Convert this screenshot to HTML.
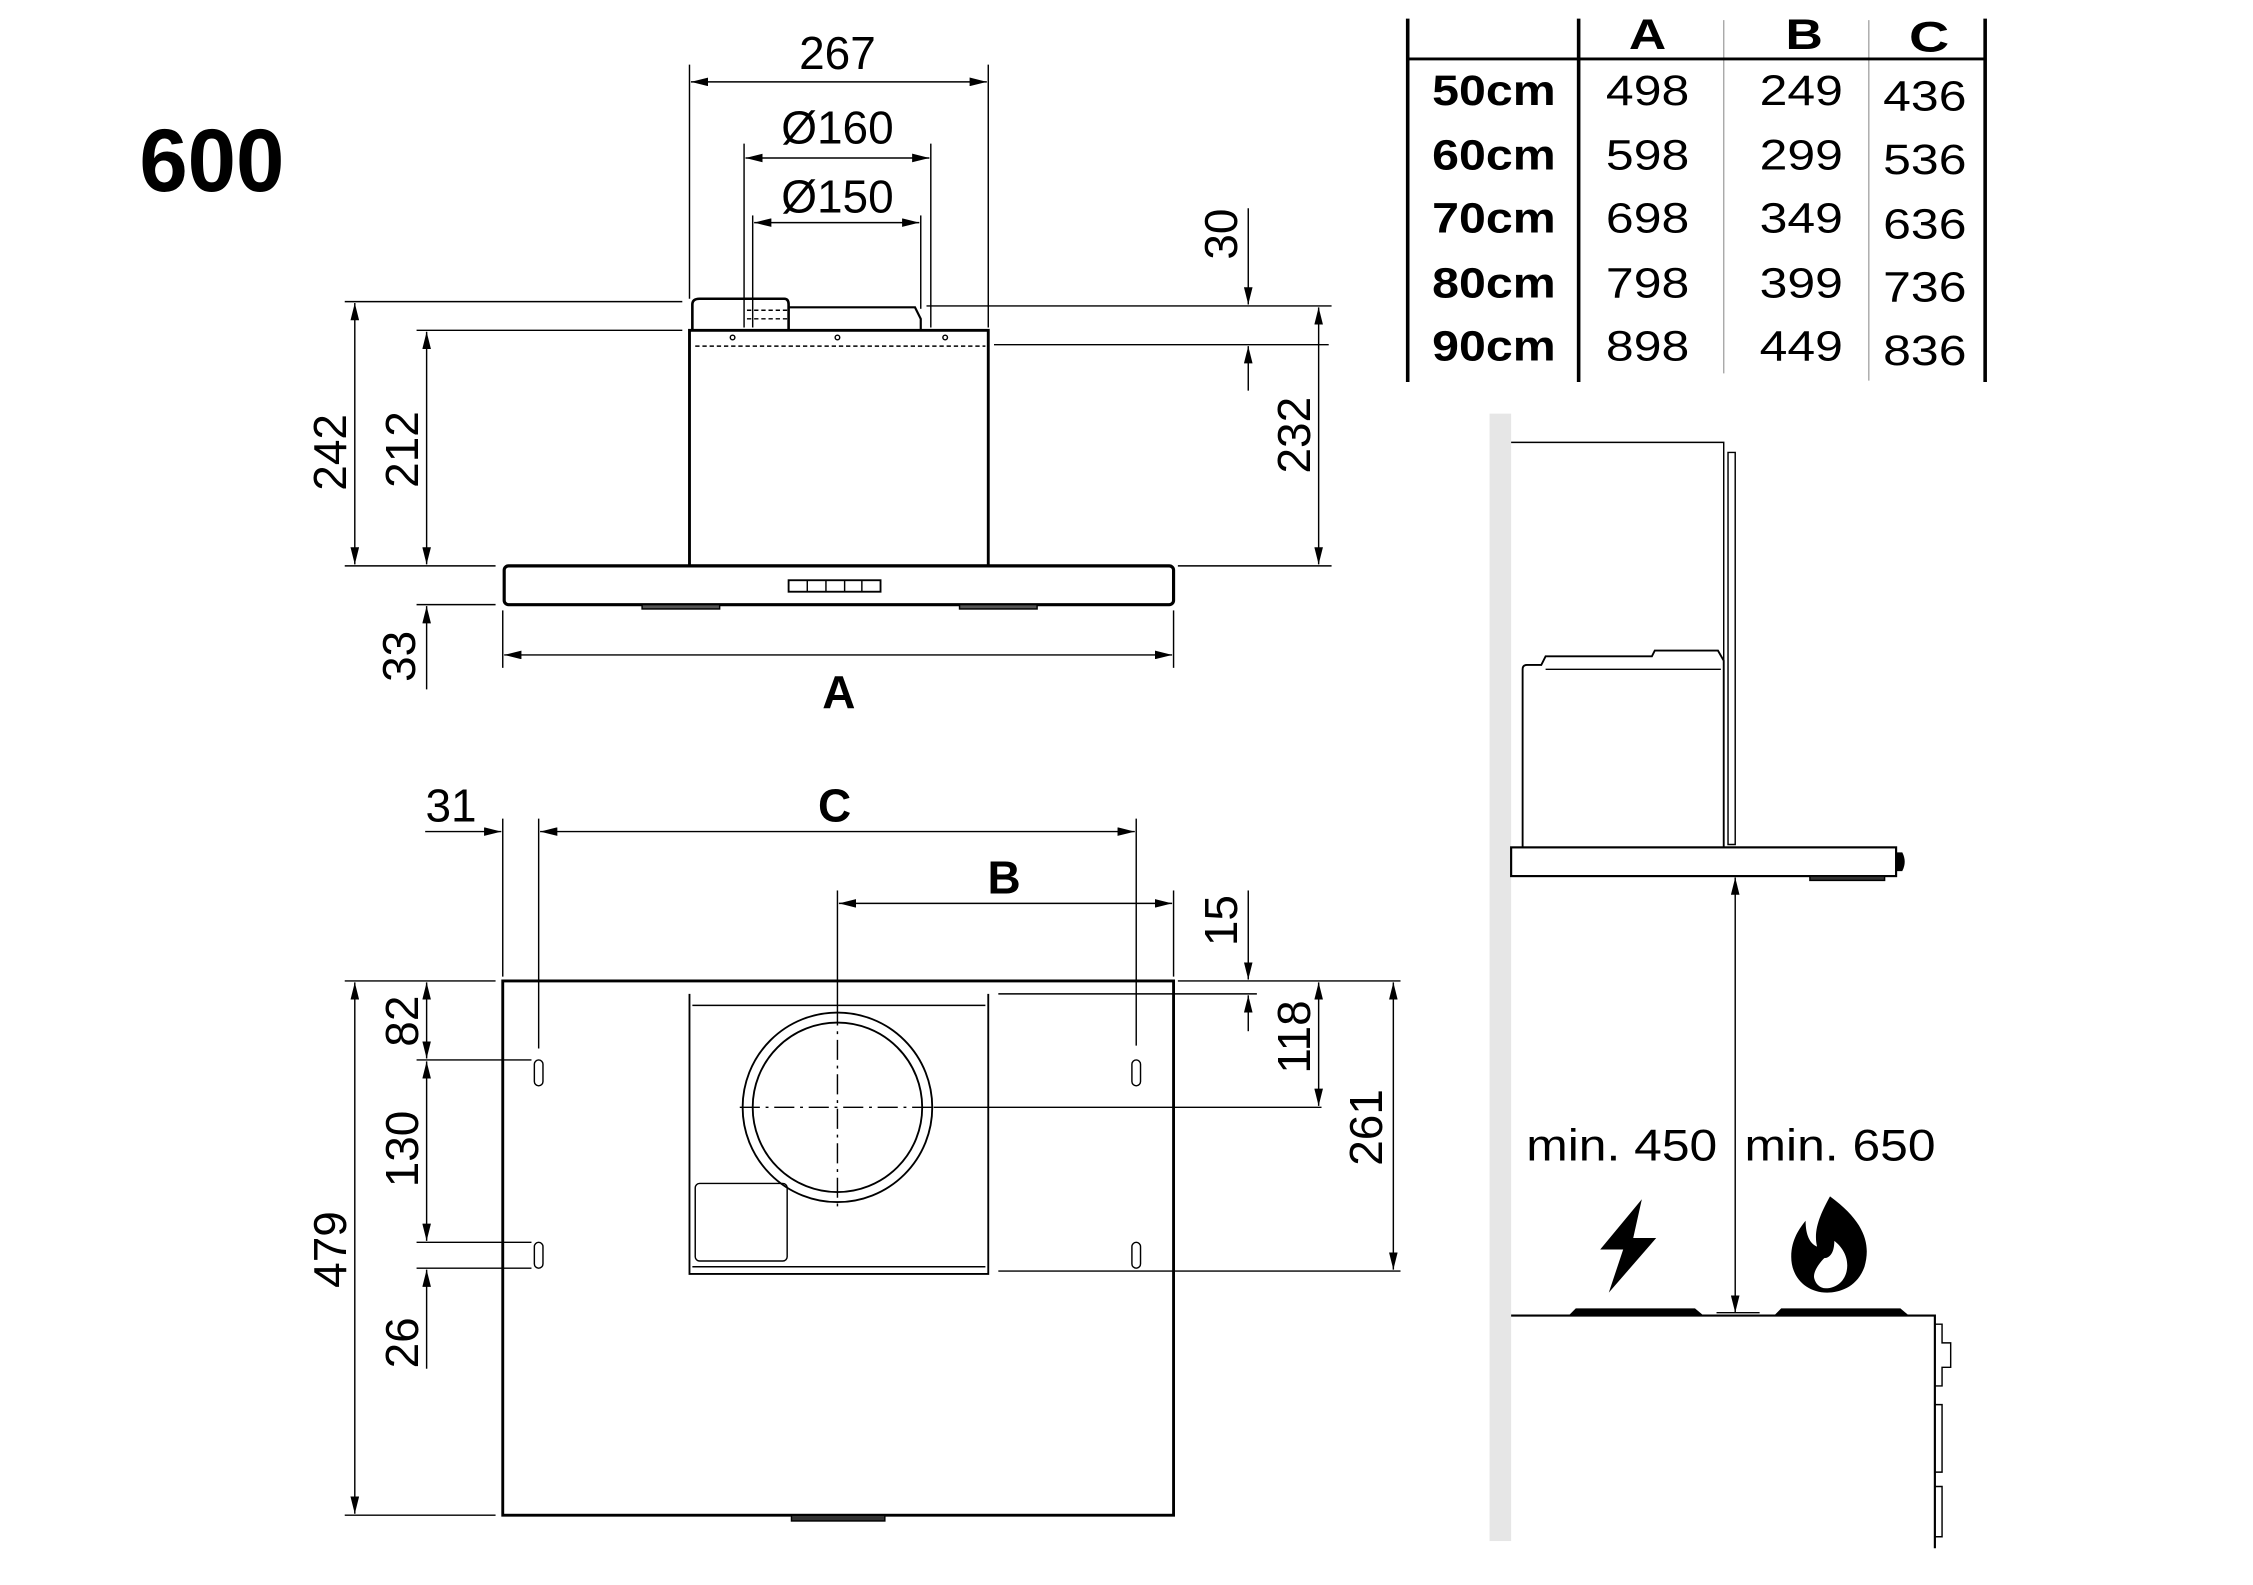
<!DOCTYPE html>
<html><head><meta charset="utf-8"><style>
html,body{margin:0;padding:0;background:#fff;}
svg{display:block;}
text{font-family:"Liberation Sans",Arial,sans-serif;fill:#000;}
</style></head><body>
<svg width="2253" height="1585" viewBox="0 0 1552 1092" preserveAspectRatio="none" xmlns="http://www.w3.org/2000/svg">
<defs>
<marker id="a" viewBox="0 0 12 6" refX="12" refY="3" markerWidth="12" markerHeight="6" markerUnits="userSpaceOnUse" orient="auto-start-reverse">
<path d="M0,0 L12,3 L0,6 z" fill="#000"/></marker>
</defs>
<rect width="1552" height="1092" fill="#fff"/>
<g transform="scale(0.9895)">
<text x="97" y="133" font-size="62" font-weight="bold" textLength="101" lengthAdjust="spacingAndGlyphs">600</text>

<!-- ===== TOP VIEW ===== -->
<g stroke="#000" stroke-width="1" fill="none">
<line x1="480" y1="45" x2="480" y2="208"/>
<line x1="688" y1="45" x2="688" y2="228"/>
<line x1="518" y1="100" x2="518" y2="228"/>
<line x1="648" y1="100" x2="648" y2="228"/>
<line x1="524" y1="150" x2="524" y2="228"/>
<line x1="641" y1="150" x2="641" y2="215"/>
<line x1="481" y1="57" x2="687" y2="57" marker-start="url(#a)" marker-end="url(#a)"/>
<line x1="519" y1="110" x2="647" y2="110" marker-start="url(#a)" marker-end="url(#a)"/>
<line x1="525" y1="155" x2="640" y2="155" marker-start="url(#a)" marker-end="url(#a)"/>
<rect x="480" y="230" width="208" height="164" stroke-width="2"/>
<path d="M482,230 V212 Q482,208 487,208 H546 Q549,208 549,212 V230" stroke-width="1.8"/>
<path d="M549,214 H637 L641,222 V230" stroke-width="1.5"/>
<path d="M520,216 H548 M520,222 H548" stroke-dasharray="3,2"/>
<line x1="484" y1="241" x2="686" y2="241" stroke-dasharray="3,2"/>
<circle cx="510" cy="235" r="1.6"/><circle cx="583" cy="235" r="1.6"/><circle cx="658" cy="235" r="1.6"/>
<rect x="351" y="394" width="466" height="27" rx="3" stroke-width="2.2"/>
<rect x="549" y="404" width="64" height="8" stroke-width="1.3"/>
<path d="M562,404V412M575,404V412M588,404V412M600,404V412"/>
<rect x="447" y="421" width="54" height="3" fill="#555"/>
<rect x="668" y="421" width="54" height="3" fill="#555"/>
<line x1="240" y1="210" x2="475" y2="210"/>
<line x1="290" y1="230" x2="475" y2="230"/>
<line x1="240" y1="394" x2="345" y2="394"/>
<line x1="290" y1="421" x2="345" y2="421"/>
<line x1="247" y1="211" x2="247" y2="393" marker-start="url(#a)" marker-end="url(#a)"/>
<line x1="297" y1="231" x2="297" y2="393" marker-start="url(#a)" marker-end="url(#a)"/>
<line x1="297" y1="480" x2="297" y2="422" marker-end="url(#a)"/>
<line x1="645" y1="213" x2="927" y2="213"/>
<line x1="692" y1="240" x2="925" y2="240"/>
<line x1="820" y1="394" x2="927" y2="394"/>
<line x1="918" y1="214" x2="918" y2="393" marker-start="url(#a)" marker-end="url(#a)"/>
<line x1="869" y1="145" x2="869" y2="212" marker-end="url(#a)"/>
<line x1="869" y1="272" x2="869" y2="241" marker-end="url(#a)"/>
<line x1="350" y1="425" x2="350" y2="465"/>
<line x1="817" y1="425" x2="817" y2="465"/>
<line x1="351" y1="456" x2="816" y2="456" marker-start="url(#a)" marker-end="url(#a)"/>
</g>
<g font-size="32">
<text x="583" y="48" text-anchor="middle">267</text>
<text x="583" y="100" text-anchor="middle">Ø160</text>
<text x="583" y="148" text-anchor="middle">Ø150</text>
<text transform="translate(241,315) rotate(-90)" text-anchor="middle">242</text>
<text transform="translate(291,313) rotate(-90)" text-anchor="middle">212</text>
<text transform="translate(289,457) rotate(-90)" text-anchor="middle">33</text>
<text transform="translate(912,303) rotate(-90)" text-anchor="middle">232</text>
<text transform="translate(861,163) rotate(-90)" text-anchor="middle">30</text>
</g>
<text x="584" y="493" font-size="32" font-weight="bold" text-anchor="middle">A</text>

<!-- ===== TABLE ===== -->
<g stroke="#000" fill="none">
<line x1="980" y1="13" x2="980" y2="266" stroke-width="2.5"/>
<line x1="1099" y1="13" x2="1099" y2="266" stroke-width="2.5"/>
<line x1="1382" y1="13" x2="1382" y2="266" stroke-width="2.5"/>
<line x1="1200" y1="14" x2="1200" y2="260" stroke="#aaa" stroke-width="1"/>
<line x1="1301" y1="14" x2="1301" y2="265" stroke="#aaa" stroke-width="1"/>
<line x1="980" y1="41" x2="1382" y2="41" stroke-width="2"/>
</g>
<g font-size="30" font-weight="bold" text-anchor="middle">
<text x="1147" y="34" textLength="26" lengthAdjust="spacingAndGlyphs">A</text>
<text x="1256" y="34" textLength="26" lengthAdjust="spacingAndGlyphs">B</text>
<text x="1343" y="36" textLength="28" lengthAdjust="spacingAndGlyphs">C</text>
</g>
<g font-size="30" font-weight="bold">
<text x="997" y="73" textLength="86" lengthAdjust="spacingAndGlyphs">50cm</text>
<text x="997" y="118" textLength="86" lengthAdjust="spacingAndGlyphs">60cm</text>
<text x="997" y="162" textLength="86" lengthAdjust="spacingAndGlyphs">70cm</text>
<text x="997" y="207" textLength="86" lengthAdjust="spacingAndGlyphs">80cm</text>
<text x="997" y="251" textLength="86" lengthAdjust="spacingAndGlyphs">90cm</text>
</g>
<g font-size="30">
<text x="1118" y="73" textLength="58" lengthAdjust="spacingAndGlyphs">498</text>
<text x="1118" y="118" textLength="58" lengthAdjust="spacingAndGlyphs">598</text>
<text x="1118" y="162" textLength="58" lengthAdjust="spacingAndGlyphs">698</text>
<text x="1118" y="207" textLength="58" lengthAdjust="spacingAndGlyphs">798</text>
<text x="1118" y="251" textLength="58" lengthAdjust="spacingAndGlyphs">898</text>
<text x="1225" y="73" textLength="58" lengthAdjust="spacingAndGlyphs">249</text>
<text x="1225" y="118" textLength="58" lengthAdjust="spacingAndGlyphs">299</text>
<text x="1225" y="162" textLength="58" lengthAdjust="spacingAndGlyphs">349</text>
<text x="1225" y="207" textLength="58" lengthAdjust="spacingAndGlyphs">399</text>
<text x="1225" y="251" textLength="58" lengthAdjust="spacingAndGlyphs">449</text>
<text x="1311" y="77" textLength="58" lengthAdjust="spacingAndGlyphs">436</text>
<text x="1311" y="121" textLength="58" lengthAdjust="spacingAndGlyphs">536</text>
<text x="1311" y="166" textLength="58" lengthAdjust="spacingAndGlyphs">636</text>
<text x="1311" y="210" textLength="58" lengthAdjust="spacingAndGlyphs">736</text>
<text x="1311" y="254" textLength="58" lengthAdjust="spacingAndGlyphs">836</text>
</g>

<!-- ===== PLAN VIEW ===== -->
<g stroke="#000" stroke-width="1" fill="none">
<rect x="350" y="683" width="467" height="372" stroke-width="2"/>
<path d="M480,692 V887 H688 V692" stroke-width="1.3"/>
<line x1="482" y1="700" x2="686" y2="700"/>
<line x1="482" y1="882" x2="686" y2="882"/>
<rect x="484" y="824" width="64" height="54" rx="3"/>
<circle cx="583" cy="771" r="66" stroke-width="1.3"/>
<circle cx="583" cy="771" r="59" stroke-width="1.3"/>
<line x1="515" y1="771" x2="650" y2="771" stroke-dasharray="14,4,2,4"/>
<line x1="650" y1="771" x2="920" y2="771"/>
<line x1="583" y1="620" x2="583" y2="700"/>
<line x1="583" y1="700" x2="583" y2="842" stroke-dasharray="14,4,2,4"/>
<rect x="372" y="738" width="6" height="18" rx="3"/>
<rect x="372" y="865" width="6" height="18" rx="3"/>
<rect x="788" y="738" width="6" height="18" rx="3"/>
<rect x="788" y="865" width="6" height="18" rx="3"/>
<rect x="551" y="1055" width="65" height="4" fill="#333"/>
<line x1="350" y1="570" x2="350" y2="680"/>
<line x1="375" y1="570" x2="375" y2="730"/>
<line x1="791" y1="570" x2="791" y2="728"/>
<line x1="817" y1="620" x2="817" y2="680"/>
<line x1="296" y1="579" x2="349" y2="579" marker-end="url(#a)"/>
<line x1="376" y1="579" x2="790" y2="579" marker-start="url(#a)" marker-end="url(#a)"/>
<line x1="584" y1="629" x2="816" y2="629" marker-start="url(#a)" marker-end="url(#a)"/>
<line x1="820" y1="683" x2="975" y2="683"/>
<line x1="695" y1="692" x2="875" y2="692"/>
<line x1="695" y1="885" x2="975" y2="885"/>
<line x1="869" y1="620" x2="869" y2="682" marker-end="url(#a)"/>
<line x1="869" y1="718" x2="869" y2="693" marker-end="url(#a)"/>
<line x1="918" y1="684" x2="918" y2="770" marker-start="url(#a)" marker-end="url(#a)"/>
<line x1="970" y1="684" x2="970" y2="884" marker-start="url(#a)" marker-end="url(#a)"/>
<line x1="240" y1="683" x2="345" y2="683"/>
<line x1="240" y1="1055" x2="345" y2="1055"/>
<line x1="290" y1="738" x2="370" y2="738"/>
<line x1="290" y1="865" x2="370" y2="865"/>
<line x1="290" y1="883" x2="370" y2="883"/>
<line x1="247" y1="684" x2="247" y2="1054" marker-start="url(#a)" marker-end="url(#a)"/>
<line x1="297" y1="684" x2="297" y2="737" marker-start="url(#a)" marker-end="url(#a)"/>
<line x1="297" y1="739" x2="297" y2="864" marker-start="url(#a)" marker-end="url(#a)"/>
<line x1="297" y1="953" x2="297" y2="884" marker-end="url(#a)"/>
</g>
<g font-size="32">
<text x="314" y="572" text-anchor="middle">31</text>
<text transform="translate(291,711) rotate(-90)" text-anchor="middle">82</text>
<text transform="translate(291,800) rotate(-90)" text-anchor="middle">130</text>
<text transform="translate(291,935) rotate(-90)" text-anchor="middle">26</text>
<text transform="translate(241,870) rotate(-90)" text-anchor="middle">479</text>
<text transform="translate(861,641) rotate(-90)" text-anchor="middle">15</text>
<text transform="translate(912,722) rotate(-90)" text-anchor="middle">118</text>
<text transform="translate(962,785) rotate(-90)" text-anchor="middle">261</text>
</g>
<text x="581" y="572" font-size="32" font-weight="bold" text-anchor="middle">C</text>
<text x="699" y="622" font-size="32" font-weight="bold" text-anchor="middle">B</text>

<!-- ===== SIDE VIEW ===== -->
<rect x="1037" y="288" width="15" height="785" fill="#e6e6e6"/>
<g stroke="#000" stroke-width="1" fill="none">
<path d="M1052,308 H1200 V590"/>
<path d="M1203,315 H1208 V588 H1203 Z"/>
<path d="M1060,590 V466 Q1060,463 1063,463 H1073 L1076,457 H1150 L1152,453 H1196 L1200,460 V590" stroke-width="1.3"/>
<line x1="1076" y1="466" x2="1198" y2="466"/>
<rect x="1052" y="590" width="268" height="20" stroke-width="1.5"/>
<path d="M1320,594 H1324 Q1327,600 1324,606 H1320" fill="#000"/>
<rect x="1260" y="610" width="52" height="3" fill="#333"/>
<line x1="1208" y1="611" x2="1208" y2="914" marker-start="url(#a)" marker-end="url(#a)"/>
<line x1="1195" y1="914" x2="1225" y2="914"/>
<path d="M1052,916 H1347 V1078" stroke-width="1.5"/>
<path d="M1347,922 H1352 V935 H1358 V952 H1352 V965 H1347" />
<path d="M1347,978 H1352 V1025 H1347 M1347,1035 H1352 V1070 H1347"/>
</g>
<path d="M1092,916 L1097,911 H1180 L1186,916 Z" fill="#000"/>
<path d="M1235,916 L1240,911 H1323 L1329,916 Z" fill="#000"/>
<text x="1129" y="808" font-size="31" text-anchor="middle" textLength="133" lengthAdjust="spacingAndGlyphs">min. 450</text>
<text x="1281" y="808" font-size="31" text-anchor="middle" textLength="133" lengthAdjust="spacingAndGlyphs">min. 650</text>
<path d="M1143,835 L1114,870 H1130 L1120,900 L1153,862 H1137 Z" fill="#000"/>
<path d="M1274,833 C1300,852 1302,868 1298,882 C1293,896 1281,900 1272,900 C1258,900 1247,890 1247,875 C1247,863 1253,855 1257,850 C1257,860 1260,866 1265,868 C1262,856 1268,844 1274,833 Z M1271,897 C1280,897 1286,890 1286,881 C1286,873 1281,867 1277,864 C1277,872 1274,876 1270,876 C1266,880 1262,886 1263,890 C1264,894 1267,897 1271,897 Z" fill="#000" fill-rule="evenodd"/>
</g>
</svg>
</body></html>
